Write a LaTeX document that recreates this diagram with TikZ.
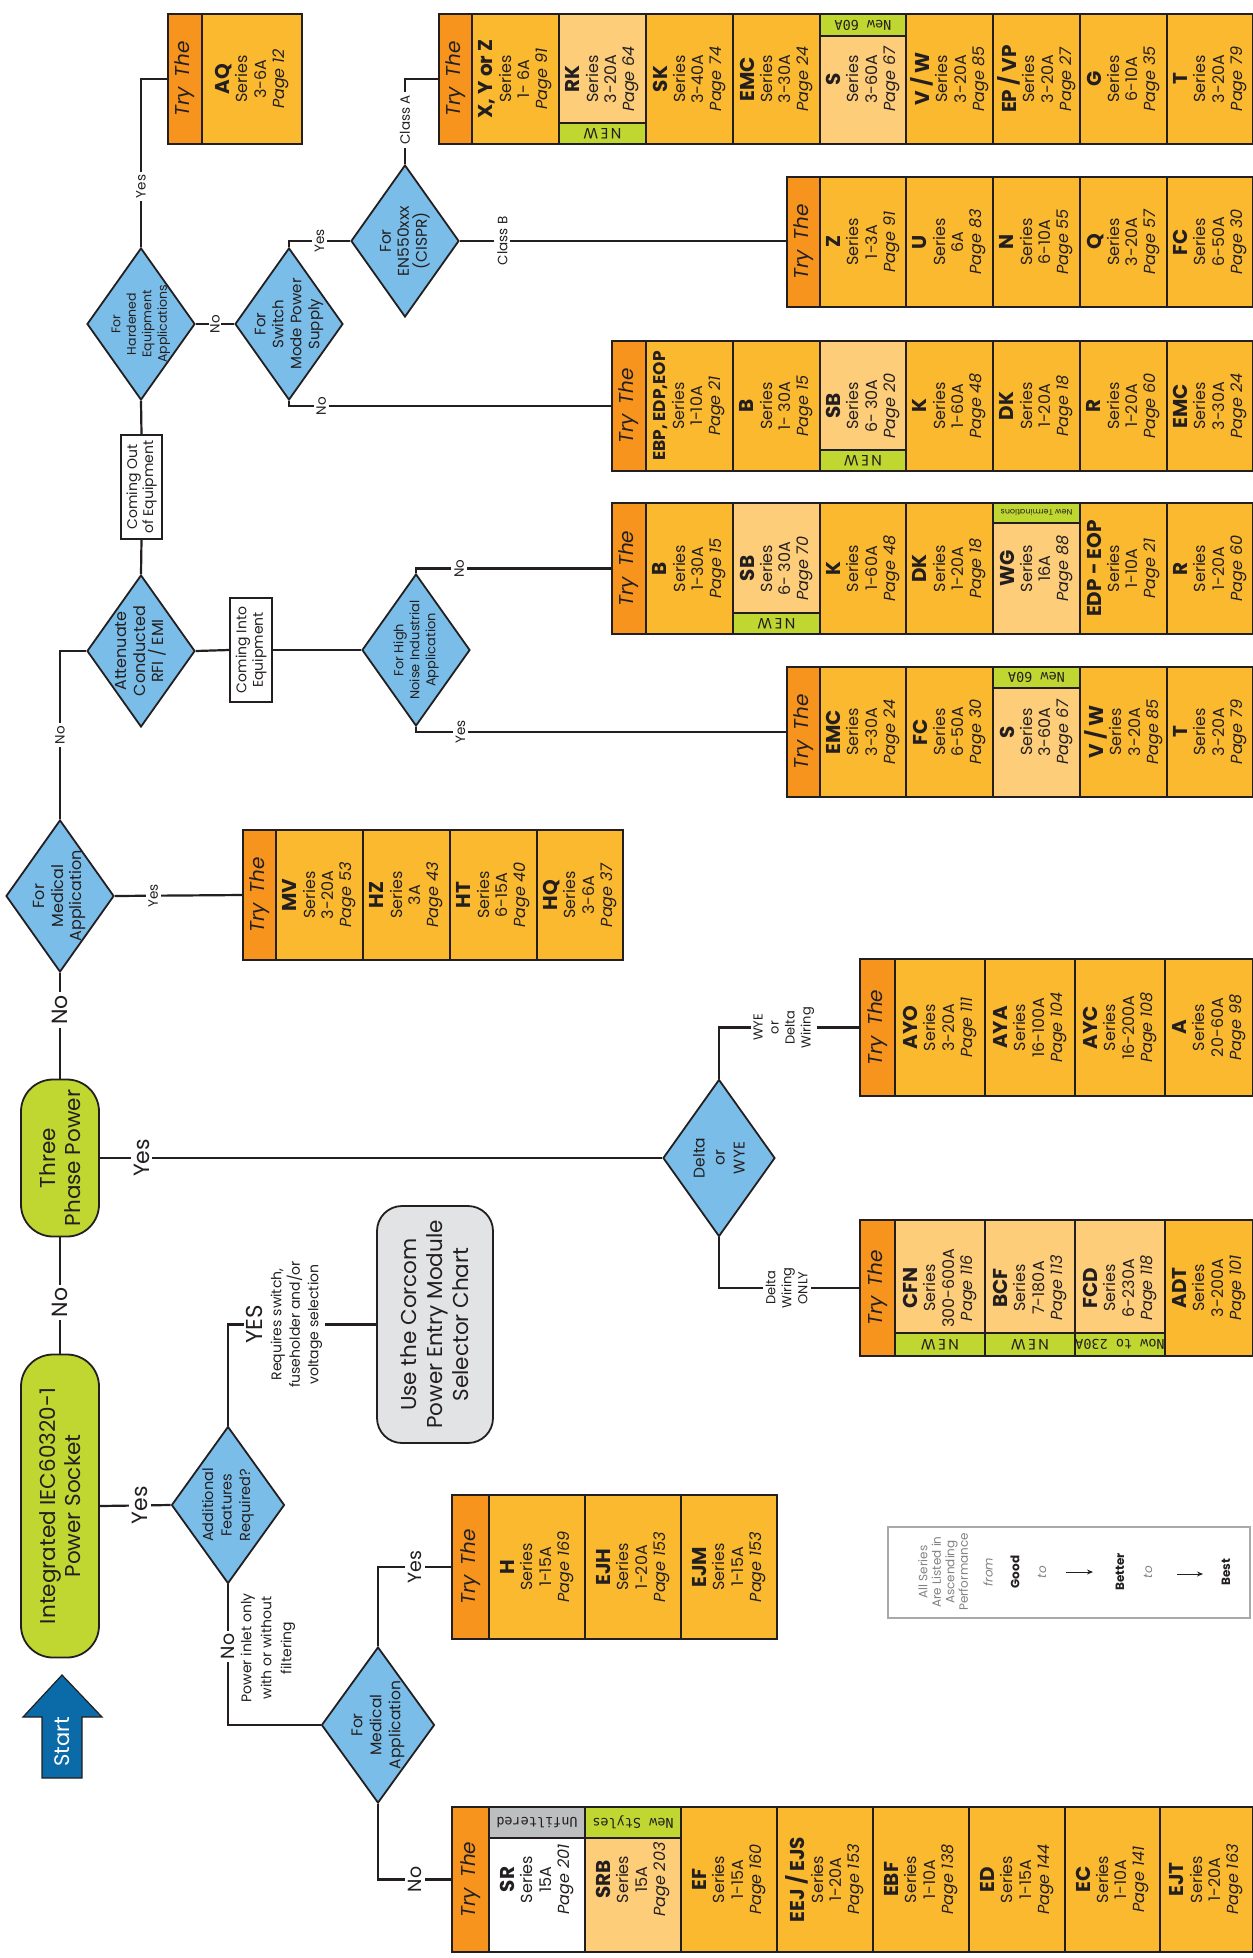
\documentclass[tikz,border=0pt]{standalone}
\usepackage{fontspec}
\setmainfont{Poppins}
\setmonofont{DejaVu Sans Mono}
\usetikzlibrary{shapes.geometric,arrows.meta}
\definecolor{lineC}{HTML}{231F20}
\definecolor{diaC}{HTML}{7ABDE8}
\definecolor{greenC}{HTML}{BFD730}
\definecolor{tryC}{HTML}{F7941D}
\definecolor{cellC}{HTML}{FBB930}
\definecolor{lightC}{HTML}{FDCD7A}
\definecolor{grayC}{HTML}{E2E3E4}
\definecolor{unfC}{HTML}{BCBEC0}
\definecolor{startC}{HTML}{0B6BA8}
\definecolor{legC}{HTML}{A7A9AC}
\definecolor{legT}{HTML}{808285}
\newcommand{\fs}[2]{\fontsize{#1}{#2}\selectfont}
\newcommand{\sr}[3]{{\fs{20}{20}\bfseries #1}\\Series\\#2\\\textit{Page #3}}
\newcommand{\trythe}{{\fs{20}{20}\itshape Try\enspace The}}
\newcommand{\newtag}{{\fs{15}{15}N\,E\,W}}
\newcommand{\mono}{\ttfamily\fs{13.5}{14}}
\tikzset{
  conn/.style={line width=2.2pt, draw=lineC},
  lbl/.style={fill=white, inner sep=3pt, text=lineC, rotate=90, font=\fs{13.5}{15}},
  biglbl/.style={lbl, font=\fs{22}{26}},
  midlbl/.style={lbl, font=\fs{19}{21}},
  dia/.style={diamond, draw=lineC, line width=1.8pt, fill=diaC, inner sep=0pt, minimum width=108pt, minimum height=152pt},
  diatext/.style={rotate=90, align=center, text=lineC, inner sep=0pt},
  greenbox/.style={rectangle, draw=lineC, fill=greenC, line width=1.8pt, rounded corners=32pt, inner sep=0pt},
  boxtext/.style={rotate=90, align=center, text=lineC, inner sep=0pt, font=\fs{21.5}{25}},
  notebox/.style={rectangle, draw=lineC, fill=white, line width=1.2pt, inner sep=0pt},
  cellbox/.style={rectangle, draw=lineC, line width=1.3pt, inner sep=0pt, outer sep=0pt},
  celltext/.style={rotate=90, align=center, text=lineC, inner sep=0pt, font=\fs{16}{18.3}},
  striptext/.style={rotate=180, text=lineC, inner sep=0pt},
  legtext/.style={rotate=90, align=center, text=legT, inner sep=0pt, font=\fs{12}{13.5}},
  legbold/.style={rotate=90, text=lineC, inner sep=0pt, font=\fs{12}{13.5}\bfseries},
  legarrow/.style={line width=1pt, draw=lineC, -{Stealth[length=6pt,width=5pt]}},
}
\newcommand{\pcell}[7]{%
  \node[cellbox,fill=#6,minimum width={(#3)-(#2)},minimum height={(#5)-(#4)}] (#1) at ({((#2)+(#3))/2},{((#4)+(#5))/2}) {};
  \node[celltext] (#1-t) at (#1.center) {#7};}
\newcommand{\pstrip}[7]{%
  \node[cellbox,fill=#6,minimum width={(#3)-(#2)},minimum height={(#5)-(#4)}] (#1) at ({((#2)+(#3))/2},{((#4)+(#5))/2}) {};
  \node[striptext] (#1-t) at (#1.center) {#7};}
\begin{document}
\begin{tikzpicture}[x=1pt,y=-1pt]
\useasboundingbox (0,0) rectangle (1252,1958);
\fill[white] (0,0) rectangle (1252,1958);

% ---------- start arrow ----------
\filldraw[fill=startC, draw=lineC, line width=1.2pt] (42,1778) -- (42,1717) -- (23,1717) -- (62,1675) -- (102,1717) -- (82,1717) -- (82,1778) -- cycle;
\node[rotate=90, text=white, font=\fs{21}{21}, inner sep=0pt] (start) at (62,1742) {Start};

% ---------- rounded boxes ----------
\node[greenbox, minimum width=78pt, minimum height=303pt] (integ) at (60,1506) {};
\node[boxtext] (integ-t) at (integ.center) {Integrated IEC60320-1\\Power Socket};
\node[greenbox, minimum width=78pt, minimum height=157pt] (three) at (60,1158) {};
\node[boxtext] (three-t) at (three.center) {Three\\Phase Power};
\node[rectangle, draw=lineC, fill=grayC, line width=1.8pt, rounded corners=25pt, minimum width=116pt, minimum height=237pt] (corcom) at (435,1324.5) {};
\node[boxtext, font=\fs{21.5}{26}] (corcom-t) at (corcom.center) {Use the Corcom\\Power Entry Module\\Selector Chart};

% ---------- diamonds ----------
\node[dia] (med1) at (60,896) {};
\node[diatext, font=\fs{16}{18.5}] (med1-t) at (med1.center) {For\\Medical\\Application};
\node[dia] (att) at (141,651) {};
\node[diatext, font=\fs{16}{18.5}] (att-t) at (att.center) {Attenuate\\Conducted\\RFI / EMI};
\node[dia] (hard) at (141,324) {};
\node[diatext, font=\fs{12.5}{15.5}] (hard-t) at (hard.center) {For\\Hardened\\Equipment\\Applications};
\node[dia] (smps) at (289,324) {};
\node[diatext, font=\fs{15}{18}] (smps-t) at (smps.center) {For\\Switch\\Mode Power\\Supply};
\node[dia] (en) at (405,241) {};
\node[diatext, font=\fs{15.5}{18}] (en-t) at (en.center) {For\\EN550xxx\\(CISPR)};
\node[dia] (hn) at (416,650) {};
\node[diatext, font=\fs{13}{16}] (hn-t) at (hn.center) {For High\\Noise Industrial\\Application};
\node[dia, minimum width=112pt, minimum height=157pt] (delta) at (719,1158) {};
\node[diatext, font=\fs{15.5}{20}] (delta-t) at (delta.center) {Delta\\or\\WYE};
\node[dia, minimum width=113pt, minimum height=157pt] (add) at (228,1505) {};
\node[diatext, font=\fs{14.5}{18.5}] (add-t) at (add.center) {Additional\\Features\\Required?};
\node[dia, minimum width=113pt, minimum height=156pt] (med2) at (378,1725) {};
\node[diatext, font=\fs{15.5}{19}] (med2-t) at (med2.center) {For\\Medical\\Application};

% ---------- note boxes ----------
\node[notebox, minimum width=41pt, minimum height=104pt] (comeout) at (141.5,487) {};
\node[diatext, font=\fs{14}{16}] (comeout-t) at (comeout.center) {Coming Out\\of Equipment};
\node[notebox, minimum width=42pt, minimum height=104pt] (comein) at (251,650) {};
\node[diatext, font=\fs{14}{16.5}] (comein-t) at (comein.center) {Coming Into\\Equipment};

% ---------- tables ----------
% AQ
\pcell{aqtry}{168}{202}{14}{144}{tryC}{\trythe}
\pcell{aq}{202}{302}{14}{144}{cellC}{\sr{AQ}{3-6A}{12}}
% Class A
\pcell{xyztry}{439}{472}{14}{144}{tryC}{\trythe}
\pcell{xyz}{472}{559}{14}{144}{cellC}{\sr{X, Y or Z}{1- 6A}{91}}
\pcell{rk}{559}{646}{14}{144}{lightC}{\sr{RK}{3-20A}{64}}
\pcell{sk}{646}{733}{14}{144}{cellC}{\sr{SK}{3-40A}{74}}
\pcell{emca}{733}{820}{14}{144}{cellC}{\sr{EMC}{3-30A}{24}}
\pcell{sa}{820}{906}{14}{144}{lightC}{\sr{S}{3-60A}{67}}
\pcell{vwa}{906}{993}{14}{144}{cellC}{\sr{V / W}{3-20A}{85}}
\pcell{epvp}{993}{1080}{14}{144}{cellC}{\sr{EP / VP}{3-20A}{27}}
\pcell{ga}{1080}{1167}{14}{144}{cellC}{\sr{G}{6-10A}{35}}
\pcell{ta}{1167}{1253}{14}{144}{cellC}{\sr{T}{3-20A}{79}}
\pstrip{rkn}{559}{646}{123}{144}{greenC}{\newtag}
\pstrip{san}{820}{906}{14}{36}{greenC}{\mono New 60A}
% Class B
\pcell{ztry}{787}{820}{177}{307}{tryC}{\trythe}
\pcell{zb}{820}{906}{177}{307}{cellC}{\sr{Z}{1-3A}{91}}
\pcell{ub}{906}{993}{177}{307}{cellC}{\sr{U}{6A}{83}}
\pcell{nb}{993}{1080}{177}{307}{cellC}{\sr{N}{6-10A}{55}}
\pcell{qb}{1080}{1167}{177}{307}{cellC}{\sr{Q}{3-20A}{57}}
\pcell{fcb}{1167}{1253}{177}{307}{cellC}{\sr{FC}{6-50A}{30}}
% SMPS No
\pcell{ebptry}{612}{646}{341}{471}{tryC}{\trythe}
\pcell{ebp}{646}{733}{341}{471}{cellC}{{\fs{17}{18}\bfseries EBP, EDP,EOP}\\Series\\1-10A\\\textit{Page 21}}
\pcell{bb}{733}{820}{341}{471}{cellC}{\sr{B}{1- 30A}{15}}
\pcell{sbb}{820}{906}{341}{471}{lightC}{\sr{SB}{6- 30A}{20}}
\pcell{kb}{906}{993}{341}{471}{cellC}{\sr{K}{1-60A}{48}}
\pcell{dkb}{993}{1080}{341}{471}{cellC}{\sr{DK}{1-20A}{18}}
\pcell{rb}{1080}{1167}{341}{471}{cellC}{\sr{R}{1-20A}{60}}
\pcell{emcb}{1167}{1253}{341}{471}{cellC}{\sr{EMC}{3-30A}{24}}
\pstrip{sbbn}{820}{906}{450}{471}{greenC}{\newtag}
% High noise No
\pcell{btry}{612}{646}{503}{634}{tryC}{\trythe}
\pcell{bc}{646}{733}{503}{634}{cellC}{\sr{B}{1-30A}{15}}
\pcell{sbc}{733}{820}{503}{634}{lightC}{\sr{SB}{6- 30A}{70}}
\pcell{kc}{820}{906}{503}{634}{cellC}{\sr{K}{1-60A}{48}}
\pcell{dkc}{906}{993}{503}{634}{cellC}{\sr{DK}{1-20A}{18}}
\pcell{wg}{993}{1080}{503}{634}{lightC}{\sr{WG}{16A}{88}}
\pcell{edp}{1080}{1167}{503}{634}{cellC}{\sr{EDP - EOP}{1-10A}{21}}
\pcell{rc}{1167}{1253}{503}{634}{cellC}{\sr{R}{1-20A}{60}}
\pstrip{sbcn}{733}{820}{613}{634}{greenC}{\newtag}
\pstrip{wgn}{993}{1080}{503}{523}{greenC}{{\fs{8}{8}New Terminations}}
% High noise Yes
\pcell{emctry}{787}{820}{667}{797}{tryC}{\trythe}
\pcell{emcd}{820}{906}{667}{797}{cellC}{\sr{EMC}{3-30A}{24}}
\pcell{fcd2}{906}{993}{667}{797}{cellC}{\sr{FC}{6-50A}{30}}
\pcell{sd}{993}{1080}{667}{797}{lightC}{\sr{S}{3-60A}{67}}
\pcell{vwd}{1080}{1167}{667}{797}{cellC}{\sr{V / W}{3-20A}{85}}
\pcell{td}{1167}{1253}{667}{797}{cellC}{\sr{T}{3-20A}{79}}
\pstrip{sdn}{993}{1080}{667}{688}{greenC}{\mono New 60A}
% Medical 1
\pcell{mvtry}{243}{276}{830}{960}{tryC}{\trythe}
\pcell{mv}{276}{363}{830}{960}{cellC}{\sr{MV}{3-20A}{53}}
\pcell{hz}{363}{450}{830}{960}{cellC}{\sr{HZ}{3A}{43}}
\pcell{ht}{450}{537}{830}{960}{cellC}{\sr{HT}{6-15A}{40}}
\pcell{hq}{537}{623}{830}{960}{cellC}{\sr{HQ}{3-6A}{37}}
% WYE
\pcell{ayotry}{860}{895}{959}{1096}{tryC}{\trythe}
\pcell{ayo}{895}{985}{959}{1096}{cellC}{\sr{AYO}{3-20A}{111}}
\pcell{aya}{985}{1075}{959}{1096}{cellC}{\sr{AYA}{16-100A}{104}}
\pcell{ayc}{1075}{1165}{959}{1096}{cellC}{\sr{AYC}{16-200A}{108}}
\pcell{aa}{1165}{1253}{959}{1096}{cellC}{\sr{A}{20-60A}{98}}
% Delta
\pcell{cfntry}{860}{895}{1220}{1356}{tryC}{\trythe}
\pcell{cfn}{895}{985}{1220}{1356}{lightC}{\sr{CFN}{300-600A}{116}}
\pcell{bcf}{985}{1075}{1220}{1356}{lightC}{\sr{BCF}{7-180A}{113}}
\pcell{fcd}{1075}{1165}{1220}{1356}{lightC}{\sr{FCD}{6-230A}{118}}
\pcell{adt}{1165}{1253}{1220}{1356}{cellC}{\sr{ADT}{3-200A}{101}}
\pstrip{cfnn}{895}{985}{1333}{1356}{greenC}{\newtag}
\pstrip{bcfn}{985}{1075}{1333}{1356}{greenC}{\newtag}
\pstrip{fcdn}{1075}{1165}{1333}{1356}{greenC}{\mono Now to 230A}
% Medical 2 Yes
\pcell{htry}{452}{489}{1495}{1639}{tryC}{\trythe}
\pcell{hh}{489}{585}{1495}{1639}{cellC}{\sr{H}{1-15A}{169}}
\pcell{ejh}{585}{681}{1495}{1639}{cellC}{\sr{EJH}{1-20A}{153}}
\pcell{ejm}{681}{777}{1495}{1639}{cellC}{\sr{EJM}{1-15A}{153}}
% Medical 2 No
\pcell{srtry}{452}{489}{1807}{1952}{tryC}{\trythe}
\pcell{sr}{489}{585}{1807}{1952}{white}{\sr{SR}{15A}{201}}
\pcell{srb}{585}{681}{1807}{1952}{lightC}{\sr{SRB}{15A}{203}}
\pcell{ef}{681}{777}{1807}{1952}{cellC}{\sr{EF}{1-15A}{160}}
\pcell{eej}{777}{873}{1807}{1952}{cellC}{\sr{EEJ / EJS}{1-20A}{153}}
\pcell{ebf}{873}{969}{1807}{1952}{cellC}{\sr{EBF}{1-10A}{138}}
\pcell{edd}{969}{1065}{1807}{1952}{cellC}{\sr{ED}{1-15A}{144}}
\pcell{ecc}{1065}{1160}{1807}{1952}{cellC}{\sr{EC}{1-10A}{141}}
\pcell{ejt}{1160}{1253}{1807}{1952}{cellC}{\sr{EJT}{1-20A}{163}}
\pstrip{srn}{489}{585}{1807}{1838}{unfC}{\mono Unfiltered}
\pstrip{srbn}{585}{681}{1807}{1838}{greenC}{\mono New Styles}

% ---------- connectors ----------
\draw[conn] (integ.north) -- node[biglbl, pos=0.44] {No} (three.south);
\draw[conn] (three.north) -- node[biglbl, pos=0.65] {No} (med1.south);
\draw[conn] (med1.east) -- node[lbl, pos=0.3] {Yes} (mvtry.west);
\draw[conn] (med1.north) |- node[lbl, pos=0.25] {No} (att.west);
\draw[conn] (att.north) -- (comeout.south);
\draw[conn] (comeout.north) -- (hard.south);
\draw[conn] (hard.north) |- node[lbl, pos=0.18] {Yes} (aqtry.west);
\draw[conn] (hard.east) -- node[lbl, pos=0.5, inner sep=1.5pt] {No} (smps.west);
\draw[conn] (smps.north) |- node[lbl, pos=0.75] {Yes} (en.west);
\draw[conn] (smps.south) |- node[lbl, pos=0.55] {No} (ebptry.west);
\draw[conn] (en.north) |- node[lbl, pos=0.26] {Class A} (xyztry.west);
\draw[conn] (en.east) -- node[lbl, pos=0.13] {Class B} (en.east -| ztry.west);
\draw[conn] (att.east) -- (comein.west);
\draw[conn] (comein.east) -- (hn.west);
\draw[conn] (hn.north) |- node[lbl, pos=0.61] {No} (btry.west);
\draw[conn] (hn.south) |- node[lbl, pos=0.56] {Yes} (emctry.west);
\draw[conn] (three.east) -- node[biglbl, pos=0.074] {Yes} (delta.west);
\draw[conn] (delta.north) |- node[lbl, pos=0.73, align=center, font=\fs{13}{16}] {WYE\\or\\Delta\\Wiring} (ayotry.west);
\draw[conn] (delta.south) |- node[lbl, pos=0.74, align=center, font=\fs{13}{16}] {Delta\\Wiring\\ONLY} (cfntry.west);
\draw[conn] (integ.east) -- node[biglbl, pos=0.57] {Yes} (add.west);
\draw[conn] (add.north) |- node[lbl, pos=0.69, align=center, font=\fs{14}{18.5}] {{\fs{23}{24}YES}\\Requires switch,\\fuseholder and/or\\voltage selection} (corcom.west);
\draw[conn] (add.south) |- node[midlbl, pos=0.22] (addno) {No} (med2.west);
\node[diatext, font=\fs{14}{20}] (addno-t) at (268,1648) {Power inlet only\\with or without\\filtering};
\draw[conn] (med2.north) |- node[midlbl, pos=0.75] {Yes} (htry.west);
\draw[conn] (med2.south) |- node[midlbl, pos=0.75] {No} (srtry.west);

% ---------- legend ----------
\node[rectangle, draw=legC, line width=1.5pt, minimum width=362pt, minimum height=91pt, inner sep=0pt] (legend) at (1069,1572.5) {};
\node[legtext] (leg1) at (943,1572) {All Series\\Are Listed in\\Ascending\\Performance};
\node[legtext, font=\fs{12}{13.5}\itshape] (legfrom) at (988,1572) {from};
\node[legbold] (leggood) at (1015,1572) {Good};
\node[legtext, font=\fs{12}{13.5}\itshape] (legto1) at (1042,1572) {to};
\coordinate (la1s) at (1066,1572);
\coordinate (la1e) at (1093,1572);
\draw[legarrow] (la1s) -- (la1e);
\node[legbold] (legbetter) at (1120,1572) {Better};
\node[legtext, font=\fs{12}{13.5}\itshape] (legto2) at (1148,1572) {to};
\coordinate (la2s) at (1177,1574);
\coordinate (la2e) at (1203,1574);
\draw[legarrow] (la2s) -- (la2e);
\node[legbold] (legbest) at (1226,1572) {Best};
\end{tikzpicture}
\end{document}
